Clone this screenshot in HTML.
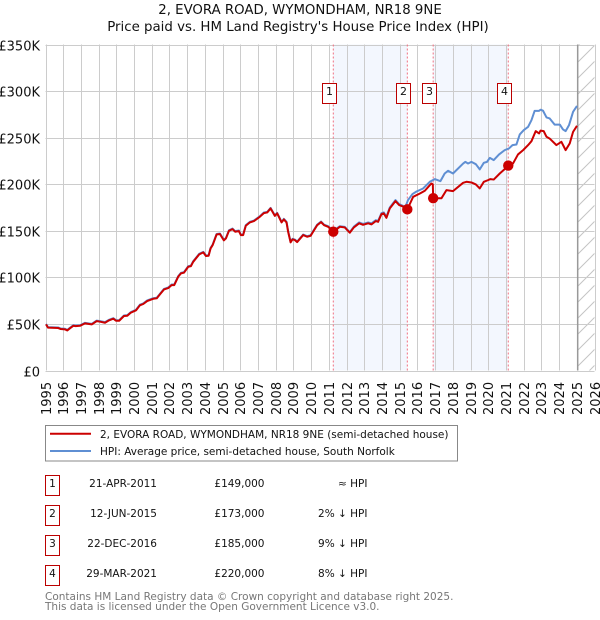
<!DOCTYPE html>
<html lang="en">
<head>
<meta charset="utf-8">
<title>2, EVORA ROAD, WYMONDHAM, NR18 9NE</title>
<style>
html,body{margin:0;padding:0;background:#fff;width:600px;height:620px;overflow:hidden}
svg{display:block}
text{font-family:"DejaVu Sans","Liberation Sans",sans-serif;fill:#111}
</style>
</head>
<body>
<svg id="chart" xmlns="http://www.w3.org/2000/svg" width="600" height="620" viewBox="0 0 600 620">
  <defs>
    <pattern id="hatch" patternUnits="userSpaceOnUse" width="16" height="16">
      <path d="M-2 18 L18 -2 M-2 2 L2 -2 M14 18 L18 14" stroke="#c4c4c4" stroke-width="1" fill="none"/>
    </pattern>
  </defs>
  <text x="300" y="14" text-anchor="middle" font-size="13.3">2, EVORA ROAD, WYMONDHAM, NR18 9NE</text>
  <text x="298" y="31" text-anchor="middle" font-size="13.35">Price paid vs. HM Land Registry's House Price Index (HPI)</text>

  <g id="bands"></g>
  <g id="grid"></g>
  <g id="ylabels"></g>
  <g id="xlabels"></g>
  <g id="vlines"></g>
  <g id="series"></g>
  <g id="markers"></g>

  <g>
    <rect x="45.5" y="425.5" width="412" height="35.5" fill="#fff" stroke="#888" stroke-width="1"/>
    <line x1="50" y1="433.7" x2="91" y2="433.7" stroke="#cc0000" stroke-width="2"/>
    <text x="100" y="438" font-size="10.5">2, EVORA ROAD, WYMONDHAM, NR18 9NE (semi-detached house)</text>
    <line x1="50" y1="451" x2="91" y2="451" stroke="#5f8fd3" stroke-width="2"/>
    <text x="100" y="455" font-size="10.5">HPI: Average price, semi-detached house, South Norfolk</text>
  </g>

  <g font-size="10.5">
    <g>
      <rect x="45.5" y="475.5" width="14" height="20" fill="#fff" stroke="#bb0000"/>
      <text x="52.5" y="487" text-anchor="middle">1</text>
      <text x="157" y="487" text-anchor="end">21-APR-2011</text>
      <text x="264.5" y="487" text-anchor="end">£149,000</text>
      <text x="367.5" y="487" text-anchor="end">≈ HPI</text>
    </g>
    <g>
      <rect x="45.5" y="505.5" width="14" height="20" fill="#fff" stroke="#bb0000"/>
      <text x="52.5" y="517" text-anchor="middle">2</text>
      <text x="157" y="517" text-anchor="end">12-JUN-2015</text>
      <text x="264.5" y="517" text-anchor="end">£173,000</text>
      <text x="367.5" y="517" text-anchor="end">2% ↓ HPI</text>
    </g>
    <g>
      <rect x="45.5" y="535.5" width="14" height="20" fill="#fff" stroke="#bb0000"/>
      <text x="52.5" y="547" text-anchor="middle">3</text>
      <text x="157" y="547" text-anchor="end">22-DEC-2016</text>
      <text x="264.5" y="547" text-anchor="end">£185,000</text>
      <text x="367.5" y="547" text-anchor="end">9% ↓ HPI</text>
    </g>
    <g>
      <rect x="45.5" y="565.5" width="14" height="20" fill="#fff" stroke="#bb0000"/>
      <text x="52.5" y="577" text-anchor="middle">4</text>
      <text x="157" y="577" text-anchor="end">29-MAR-2021</text>
      <text x="264.5" y="577" text-anchor="end">£220,000</text>
      <text x="367.5" y="577" text-anchor="end">8% ↓ HPI</text>
    </g>
  </g>

  <text x="45" y="600" font-size="10.5" style="fill:#777">Contains HM Land Registry data © Crown copyright and database right 2025.</text>
  <text x="45" y="610" font-size="10.5" style="fill:#777">This data is licensed under the Open Government Licence v3.0.</text>
</svg>
<script>
var yearTicks = [1995,1996,1997,1998,1999,2000,2001,2002,2003,2004,2005,2006,2007,2008,2009,2010,2011,2012,2013,2014,2015,2016,2017,2018,2019,2020,2021,2022,2023,2024,2025,2026];
var valueTicks = [0,50,100,150,200,250,300,350];
var valueTickLabels = ['£0','£50K','£100K','£150K','£200K','£250K','£300K','£350K'];

var pricePaidDates = [1995.03,1995.14,1995.72,1995.86,1996.10,1996.23,1996.38,1996.57,1996.70,1996.95,1997.23,1997.61,1997.89,1998.08,1998.36,1998.58,1998.83,1998.98,1999.16,1999.43,1999.62,1999.81,2000.11,2000.33,2000.52,2000.74,2001.08,2001.28,2001.46,2001.69,2001.93,2002.12,2002.27,2002.49,2002.65,2002.82,2003.06,2003.21,2003.34,2003.68,2003.91,2004.06,2004.21,2004.32,2004.44,2004.66,2004.85,2005.07,2005.19,2005.36,2005.56,2005.71,2005.92,2006.03,2006.16,2006.31,2006.54,2006.77,2007.10,2007.33,2007.52,2007.71,2007.95,2008.08,2008.33,2008.46,2008.61,2008.70,2008.84,2008.95,2009.08,2009.21,2009.55,2009.77,2009.97,2010.11,2010.34,2010.56,2010.73,2010.96,2011.25,2011.62,2011.90,2012.18,2012.41,2012.71,2012.93,2013.22,2013.41,2013.65,2013.78,2013.97,2014.10,2014.25,2014.44,2014.76,2014.97,2015.23,2015.43,2015.76,2016.14,2016.42,2016.70,2016.79,2016.87,2016.89,2017.36,2017.64,2018.01,2018.58,2018.77,2019.05,2019.30,2019.52,2019.75,2019.99,2020.12,2020.31,2020.65,2021.03,2021.13,2021.40,2021.68,2021.97,2022.25,2022.44,2022.68,2022.87,2022.95,2023.13,2023.29,2023.47,2023.85,2024.13,2024.37,2024.60,2024.79,2025.01];
var pricePaidValues = [49.5,46,45.6,44.5,44.2,43,45.3,48,47.7,48,50.6,49.5,53,52.4,51.3,53.8,55.6,53.4,53.4,58.5,58.8,62,64.6,70,71.4,74.6,77,77.5,81.7,87,88.5,91.7,91.7,100.6,104.3,105,111.4,112,116.7,124.7,126.8,122.9,123.2,131,134.7,146,146.5,139.7,141.8,150,151.8,149,149.7,145.4,145.4,155.4,159,160.4,165,169,169.7,174,166,168.7,159,162.2,159,149,137.6,140.8,140,137.9,145.4,143.6,144.6,149,156,159.3,156,154.3,149,154.3,153.6,147.9,153.6,158,156.4,158,156.9,160.4,159.6,167.9,168.7,163.9,174,181.9,177.6,175.8,173,186.5,190,193,199,200.8,200,185,185,193.7,192.6,201.5,202.6,201.9,199.8,195.5,202.6,204.4,205.5,205,211.5,218,220,222.3,232,236.6,242,246.2,257,254.5,257.5,257,250.9,249,242,245.5,236.6,243.8,256.2,262.7];

var hpiDates = [1995.03,1995.14,1995.72,1995.86,1996.10,1996.23,1996.38,1996.57,1996.70,1996.95,1997.23,1997.61,1997.89,1998.08,1998.36,1998.58,1998.83,1998.98,1999.16,1999.43,1999.62,1999.81,2000.11,2000.33,2000.52,2000.74,2001.08,2001.28,2001.46,2001.69,2001.93,2002.12,2002.27,2002.49,2002.65,2002.82,2003.06,2003.21,2003.34,2003.68,2003.91,2004.06,2004.21,2004.32,2004.44,2004.66,2004.85,2005.07,2005.19,2005.36,2005.56,2005.71,2005.92,2006.03,2006.16,2006.31,2006.54,2006.77,2007.10,2007.33,2007.52,2007.71,2007.95,2008.08,2008.33,2008.46,2008.61,2008.70,2008.84,2008.95,2009.08,2009.21,2009.55,2009.77,2009.97,2010.11,2010.34,2010.56,2010.73,2010.96,2011.25,2011.62,2011.90,2012.18,2012.41,2012.71,2012.93,2013.22,2013.41,2013.65,2013.78,2013.97,2014.10,2014.25,2014.44,2014.76,2014.97,2015.23,2015.34,2015.47,2015.72,2015.95,2016.32,2016.70,2016.98,2017.30,2017.54,2017.73,2018.01,2018.58,2018.71,2018.86,2019.05,2019.30,2019.52,2019.75,2019.93,2020.09,2020.31,2020.61,2020.93,2021.17,2021.37,2021.59,2021.78,2022.00,2022.25,2022.44,2022.62,2022.87,2022.96,2023.09,2023.29,2023.47,2023.75,2024.04,2024.22,2024.37,2024.56,2024.79,2025.01];
var hpiValues = [50,46.6,46.2,45.1,44.8,43.6,45.9,48.6,48.3,48.6,51.2,50.1,53.6,53,51.9,54.4,56.2,54,54,59.1,59.4,62.6,65.2,70.6,72,75.2,77.6,78.1,82.3,87.6,89.1,92.3,92.3,101.2,104.9,105.6,112,112.6,117.3,125.3,127.4,123.5,123.8,131.6,135.3,146.6,147.1,140.3,142.4,150.6,152.4,149.6,150.3,146,146,156,159.6,161,165.6,169.6,170.3,174.6,166.6,169.3,159.6,162.8,159.6,149.6,138.2,141.4,140.6,138.5,146,144.2,145.2,149.6,156.6,159.9,156.6,154.9,150,154.9,154.2,148.5,154.4,159,157.4,159,158,161.4,160.6,169,169.7,165,175,183,178.6,176.5,176.5,183,189.4,192.2,195.4,202.6,205.5,203.3,211.5,214.4,211.5,222.2,224,222.2,224,221.5,215.9,223,224,228.3,225.9,232,236.6,238.4,242,242.6,253.4,258,261.6,268.8,278.8,278.8,280,279,271.7,270.6,264,264,258.8,257,263.4,277.7,284];

var saleDates = [2011.25,2015.43,2016.89,2021.13];
var salePrices = [149,173,185,220];
var saleNumbers = ['1','2','3','4'];
var dataEndDate = 2025.05;

var NS = 'http://www.w3.org/2000/svg';
function xScale(year){ return 45.5 + (year - 1995) * 17.71; }
function yScale(value){ return 370.5 - value * 0.9314; }
function make(tag, attrs, parent){
  var el = document.createElementNS(NS, tag);
  for (var k in attrs) el.setAttribute(k, attrs[k]);
  parent.appendChild(el);
  return el;
}
function pathFrom(dates, values){
  var d = '';
  for (var i = 0; i < dates.length; i++){
    d += (i ? 'L' : 'M') + xScale(dates[i]).toFixed(2) + ' ' + yScale(values[i]).toFixed(2);
  }
  return d;
}

var bandsG = document.getElementById('bands');
for (var b = 0; b + 1 < saleDates.length; b += 2){
  var band = make('rect', {x: xScale(saleDates[b]), y: yScale(350), width: xScale(saleDates[b+1]) - xScale(saleDates[b]), height: yScale(0) - yScale(350), fill: '#f3f7fe'}, bandsG);
  
  
}

var gridG = document.getElementById('grid');
var hatchRect = make('rect', {x: xScale(dataEndDate), y: yScale(350), width: xScale(2026) - xScale(dataEndDate), height: yScale(0) - yScale(350), fill: 'url(#hatch)'}, gridG);



yearTicks.forEach(function(year){
  var px = Math.round(xScale(year)) + 0.5;
  var vl = make('line', {x1: px, x2: px, y1: yScale(350), y2: yScale(0), stroke: '#cccccc', 'stroke-width': 1}, gridG);
  
  
  var t = make('text', {transform: 'translate(' + (px + 4.5) + ',415) rotate(-90)', 'font-size': '13'}, document.getElementById('xlabels'));
  
  
  t.textContent = String(year);
});

valueTicks.forEach(function(v, i){
  var py = Math.round(yScale(v)) + 0.5;
  var hl = make('line', {x1: xScale(1995), x2: xScale(2026), y1: py, y2: py, stroke: '#cccccc', 'stroke-width': 1}, gridG);
  
  
  var t = make('text', {x: 40, y: py + 5, 'text-anchor': 'end', 'font-size': '13'}, document.getElementById('ylabels'));
  
  
  t.textContent = valueTickLabels[i];
});

var endLine = make('line', {x1: xScale(dataEndDate), x2: xScale(dataEndDate), y1: yScale(350), y2: yScale(0), stroke: '#999999', 'stroke-width': 1.5}, gridG);



var vlinesG = document.getElementById('vlines');
saleDates.forEach(function(date){
  var ln = make('line', {x1: xScale(date), x2: xScale(date), y1: yScale(350), y2: yScale(0), stroke: '#f07080', 'stroke-width': 1, 'stroke-dasharray': '2 2'}, vlinesG);
  
  
});

var seriesG = document.getElementById('series');
var hpiPath = make('path', {d: pathFrom(hpiDates, hpiValues), fill: 'none', stroke: '#5f8fd3', 'stroke-width': 2, 'stroke-linejoin': 'round'}, seriesG);


var pricePath = make('path', {d: pathFrom(pricePaidDates, pricePaidValues), fill: 'none', stroke: '#cc0000', 'stroke-width': 2, 'stroke-linejoin': 'round'}, seriesG);



var markersG = document.getElementById('markers');
saleDates.forEach(function(date, i){
  var dot = make('circle', {cx: xScale(date), cy: yScale(salePrices[i]), r: 5.2, fill: '#cc0000'}, markersG);
  
  
  var bx = Math.round(xScale(date) - 10) - 0.5;
  var box = make('rect', {x: bx, y: 83.5, width: 14, height: 20, fill: '#fff', stroke: '#bb0000', 'stroke-width': 1}, markersG);
  
  
  var num = make('text', {x: bx + 7, y: 95, 'text-anchor': 'middle', 'font-size': '11'}, markersG);
  
  
  num.textContent = saleNumbers[i];
});
</script>
</body>
</html>
